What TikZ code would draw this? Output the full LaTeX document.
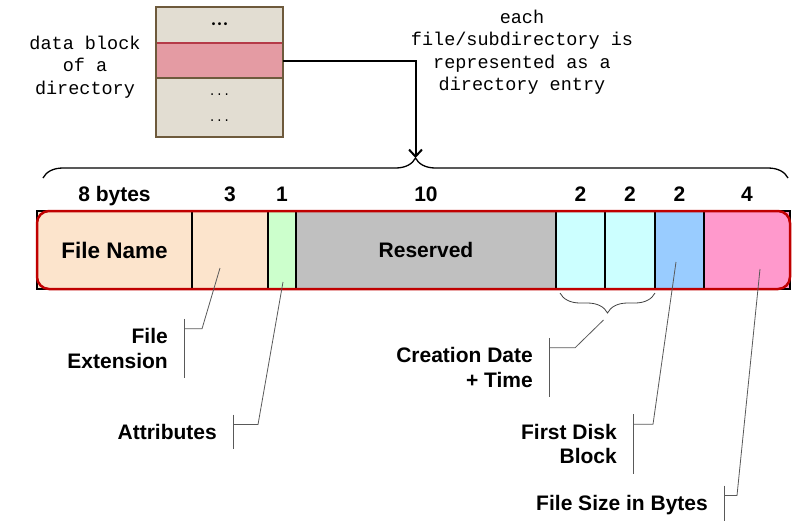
\documentclass[tikz,border=0pt]{standalone}
\usepackage{fontspec}
\setmainfont{Liberation Sans}
\setmonofont{Liberation Mono}
\usepackage{xcolor}
\usepackage{tikz}
\usetikzlibrary{arrows.meta,positioning,calc,decorations.pathreplacing}
\definecolor{namepeach}{HTML}{FCE4CC}
\definecolor{attrgreen}{HTML}{CCFFCC}
\definecolor{resgray}{HTML}{C0C0C0}
\definecolor{datecyan}{HTML}{CCFFFF}
\definecolor{blockblue}{HTML}{99CCFF}
\definecolor{sizepink}{HTML}{FF99CC}
\definecolor{entryred}{HTML}{C00000}
\definecolor{blkbeige}{HTML}{E2DDD2}
\definecolor{blkbrown}{HTML}{6E5A3C}
\definecolor{blkpink}{HTML}{E49BA3}
\definecolor{blkrose}{HTML}{B53A48}

\begin{document}
\begin{tikzpicture}[x=1pt, y=-1pt,
    field/.style={draw=black, line width=1.2pt, minimum height=78pt, inner sep=0pt, outer sep=0pt,
                  font=\fontsize{22.5}{26}\selectfont\bfseries},
    bytes/.style={font=\fontsize{21}{24}\selectfont\bfseries, anchor=base},
    blk/.style={draw=blkbrown, line width=1.6pt, fill=blkbeige, minimum width=127pt, inner sep=0pt, outer sep=0pt},
    mono/.style={font=\fontsize{18.5}{22.5}\selectfont\ttfamily, align=center},
    lbl/.style={font=\fontsize{21}{24.5}\selectfont\bfseries, align=right, anchor=east, inner xsep=4pt, inner ysep=9.5pt},
    callout/.style={draw=black!65, line width=0.8pt},
]
\useasboundingbox (0,0) rectangle (796,520);

% data block of the directory
\node[blk, minimum height=36pt, anchor=north west, font=\fontsize{10}{12}\selectfont\ttfamily\bfseries] (blk1) at (156,7) {•••};
\node[blk, minimum height=35pt, fill=blkpink, draw=blkrose, below=0pt of blk1] (blk2) {};
\node[blk, minimum height=59pt, below=0pt of blk2, align=center,
      font=\fontsize{12}{26}\selectfont\ttfamily] (blk3) {...\\...};
\draw[blkbrown, line width=1.6pt] (blk1.north west) rectangle (blk3.south east);
\node[mono] (dirlbl) at (85,67) {data block\\of a\\directory};
\node[mono] (entrylbl) at (522,52) {each\\file/subdirectory is\\represented as a\\directory entry};

% the directory entry
\node[field, fill=namepeach, minimum width=155pt, anchor=north west] (fname) at (37,211) {File Name};
\node[field, fill=namepeach, minimum width=76pt, right=0pt of fname] (ext) {};
\node[field, fill=attrgreen, minimum width=28pt, right=0pt of ext] (attr) {};
\node[field, fill=resgray, minimum width=260pt, right=0pt of attr, font=\fontsize{21}{24}\selectfont\bfseries] (res) {Reserved};
\node[field, fill=datecyan, minimum width=49pt, right=0pt of res] (date1) {};
\node[field, fill=datecyan, minimum width=50pt, right=0pt of date1] (date2) {};
\node[field, fill=blockblue, minimum width=49pt, right=0pt of date2] (first) {};
\node[field, fill=sizepink, minimum width=86pt, right=0pt of first] (fsize) {};
\draw[entryred, line width=2.5pt, rounded corners=12pt] (fname.north west) rectangle (fsize.south east);

\node[bytes] at ([yshift=10pt]fname.north) {8 bytes};
\node[bytes] at ([yshift=10pt]ext.north) {3};
\node[bytes] at ([yshift=10pt]attr.north) {1};
\node[bytes] at ([yshift=10pt]res.north) {10};
\node[bytes] at ([yshift=10pt]date1.north) {2};
\node[bytes] at ([yshift=10pt]date2.north) {2};
\node[bytes] at ([yshift=10pt]first.north) {2};
\node[bytes] at ([yshift=10pt]fsize.north) {4};

% braces
\coordinate (bl) at ([shift={(6,-33)}]fname.north west);
\coordinate (br) at ([shift={(-2,-33)}]fsize.north east);
\coordinate (tip) at ($(bl)!.5!(br)+(0,-20)$);
\draw[decorate, decoration={brace, amplitude=20pt}, line width=1.3pt] (bl) -- (br);
\draw[line width=2pt, -{Straight Barb[length=7pt,width=13pt]}] (blk2.east) -| (tip);

\coordinate (dl) at ([shift={(4,4)}]date1.south west);
\coordinate (dr) at ([shift={(0,4)}]date2.south east);
\coordinate (dtip) at ($(dl)!.5!(dr)+(0,20)$);
\draw[decorate, decoration={brace, amplitude=20pt}, line width=0.8pt, black!75] (dr) -- (dl);

% callouts
\node[lbl] (extlbl) at (172,348.5) {File\\Extension};
\node[lbl] (attrlbl) at (221,432) {Attributes};
\node[lbl] (datelbl) at (537,367.5) {Creation Date\\+ Time};
\node[lbl] (firstlbl) at (621,444) {First Disk\\Block};
\node[lbl] (sizelbl) at (712,505) {File Size in Bytes};

\draw[callout] ([shift={(-10,18)}]ext.center) -- ([shift={(30,10)}]extlbl.north east) -- ([shift={(12,10)}]extlbl.north east);
\draw[callout] ([xshift=12pt]extlbl.north east) -- ([xshift=12pt]extlbl.south east);
\draw[callout] ([shift={(1,32)}]attr.center) -- ([shift={(37,10)}]attrlbl.north east) -- ([shift={(12,10)}]attrlbl.north east);
\draw[callout] ([xshift=12pt]attrlbl.north east) -- ([xshift=12pt]attrlbl.south east);
\draw[callout] ([shift={(-4,7)}]dtip) -- ([shift={(38,10)}]datelbl.north east) -- ([shift={(12,10)}]datelbl.north east);
\draw[callout] ([xshift=12pt]datelbl.north east) -- ([xshift=12pt]datelbl.south east);
\draw[callout] ([shift={(-3.5,12)}]first.center) -- ([shift={(32,10)}]firstlbl.north east) -- ([shift={(12,10)}]firstlbl.north east);
\draw[callout] ([xshift=12pt]firstlbl.north east) -- ([xshift=12pt]firstlbl.south east);
\draw[callout] ([shift={(13,19)}]fsize.center) -- ([shift={(25,10)}]sizelbl.north east) -- ([shift={(12,10)}]sizelbl.north east);
\draw[callout] ([xshift=12pt]sizelbl.north east) -- ([xshift=12pt]sizelbl.south east);
\end{tikzpicture}
\end{document}
